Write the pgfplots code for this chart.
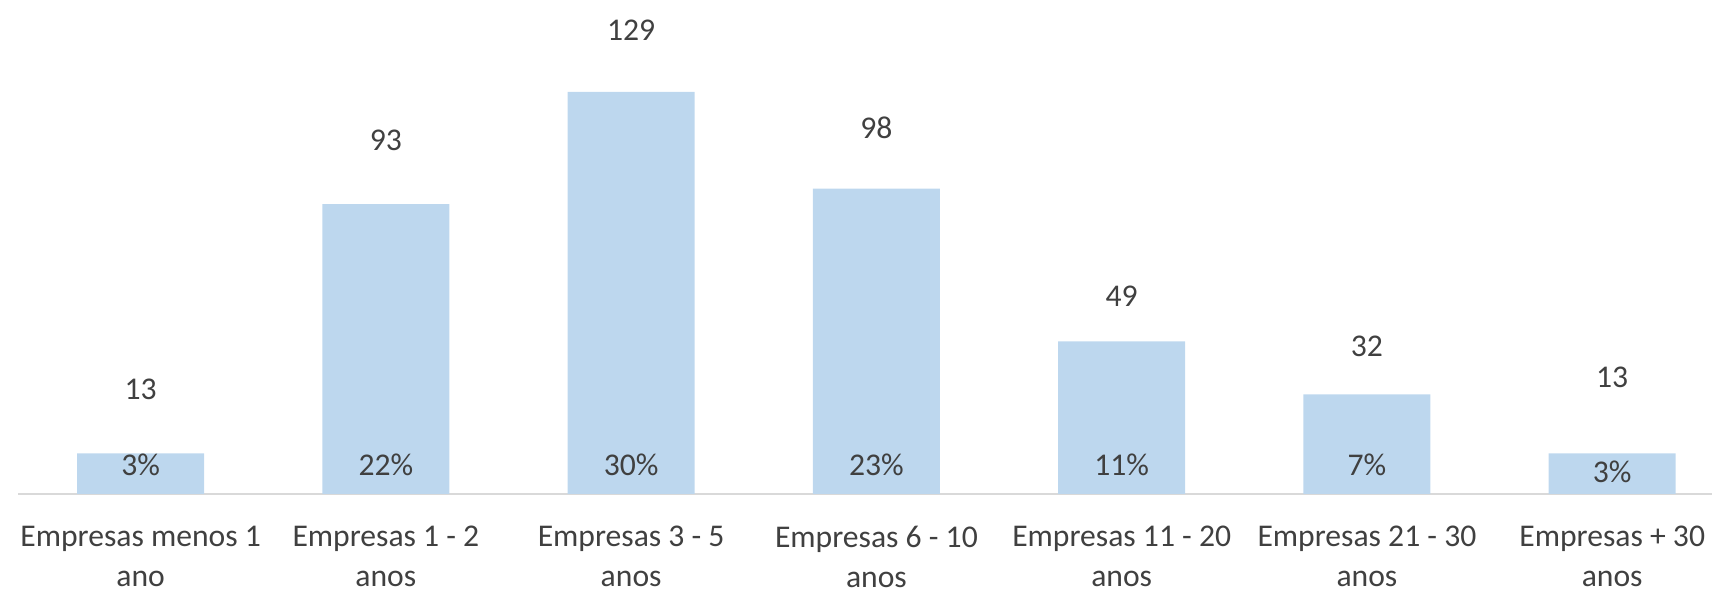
\documentclass[border=0pt]{standalone}
\usepackage{fontspec}
\setmainfont{Carlito}
\usepackage{pgfplots}
\usepackage{pgfplotstable}
\pgfplotsset{compat=1.18}

\definecolor{barblue}{HTML}{BDD7EE}
\definecolor{txt}{HTML}{404040}
\definecolor{axisgray}{HTML}{D9D9D9}

% x, number of firms, share (%), label offsets in mm
\pgfplotstableread{
x v pct off poff
0 13 3 6.4 2.9
1 93 22 6.4 2.9
2 129 30 6.2 2.9
3 98 23 6.1 2.9
4 49 11 4.5 2.9
5 32 7 4.8 2.9
6 13 3 7.6 2.2
}\empresas

\begin{document}
\begin{tikzpicture}[font=\fontsize{9}{11.4}\selectfont]
\useasboundingbox (-1.8mm,-9.6mm) rectangle (169.4mm,49.4mm);
\begin{axis}[
    at={(0,0)}, anchor=south west,
    scale only axis,
    width=169.4mm, height=49.4mm,
    xmin=-0.5, xmax=6.407,
    ymin=0, ymax=158.5,
    axis x line*=bottom,
    axis y line=none,
    x axis line style={draw=axisgray, line width=0.2mm, -},
    xtick={0,...,6},
    xticklabels={{Empresas menos 1\\ano},{Empresas 1 - 2\\anos},{Empresas 3 - 5\\anos},{Empresas 6 - 10\\anos},{Empresas 11 - 20\\anos},{Empresas 21 - 30\\anos},{Empresas + 30\\anos}},
    major tick length=0pt,
    xticklabel style={align=center, text=txt, font=\fontsize{9}{11.4}\selectfont, yshift=-2.0mm},
    ytick=\empty,
    clip=false,
]

\addplot[ybar, bar width=0.518, bar shift=0pt, fill=barblue, draw=none,
    point meta=explicit symbolic,
    nodes near coords,
    visualization depends on={\thisrow{off} \as \loff},
    nodes near coords style={anchor=center, yshift=\loff mm, text=txt, font=\fontsize{9}{11.4}\selectfont},
] table[x=x, y=v, meta=v] {\empresas};

\addplot[draw=none, mark=none,
    point meta=explicit symbolic,
    nodes near coords={\pgfplotspointmeta\%},
    visualization depends on={\thisrow{v} \as \barv},
    visualization depends on={\thisrow{poff} \as \poff},
    nodes near coords style={anchor=center, yshift={\poff mm-\barv*0.31167mm}, text=txt, font=\fontsize{9}{11.4}\selectfont},
] table[x=x, y=v, meta=pct] {\empresas};

\end{axis}
\end{tikzpicture}
\end{document}
